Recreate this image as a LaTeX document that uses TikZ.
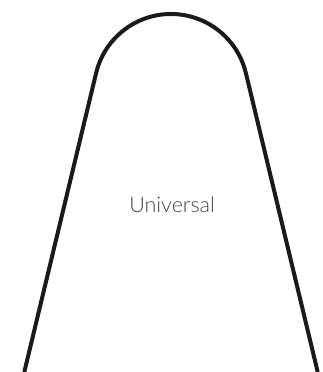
\documentclass[tikz,border=0pt]{standalone}
\usepackage{fontspec}
\newfontfamily\labelfont{Lato Light}
\usepackage{xcolor}
\definecolor{bellInk}{HTML}{1A1A1A}
\definecolor{bellText}{HTML}{444444}
\usetikzlibrary{calc}
\tikzset{
  bellline/.style={draw=bellInk,line width=4pt,line join=round},
  belllabel/.style={font=\labelfont\fontsize{21.5}{24}\selectfont,text=bellText,inner sep=0pt}
}

\begin{document}
\begin{tikzpicture}[x=1pt,y=1pt]
\useasboundingbox (0,0) rectangle (323,372);

%% -- bell outline -------------------------------------
\coordinate (apex) at (171,281);
\coordinate (bl) at (24.3,0);
\coordinate (br) at (317.7,0);
\draw[bellline] (bl) -- ($(apex)+(166.5:77)$)
  arc[start angle=166.5,end angle=13.5,radius=77] -- (br);

%% -- label ---------------------------------------------
\node[belllabel] (lbl) at (172,167) {Universal};

\end{tikzpicture}
\end{document}
